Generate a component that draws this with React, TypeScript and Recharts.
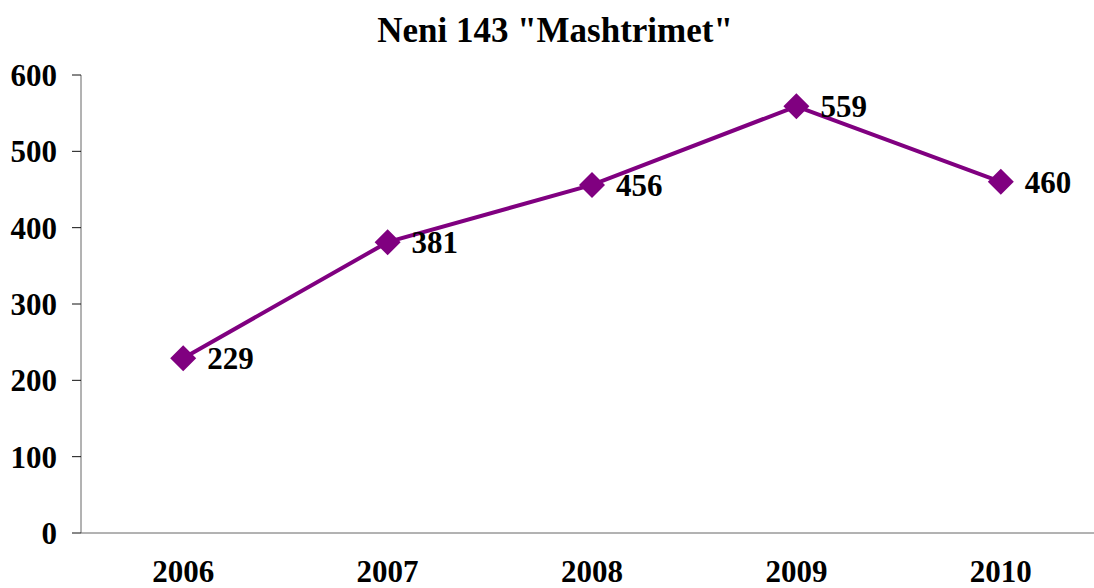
import { LineChart, Line, XAxis, YAxis, LabelList } from 'recharts'

const VITET = ['2006', '2007', '2008', '2009', '2010']
const RASTET = [229, 381, 456, 559, 460]
const TICKS_Y = [0, 100, 200, 300, 400, 500, 600]
const KUFIJTE = [0, 1, 2, 3, 4, 5]
const MESI = [0.5, 1.5, 2.5, 3.5, 4.5]

const FONT = '"Liberation Serif", "Times New Roman", serif'
const VJOLLCE = '#800080'

const dados = VITET.map((v, i) => ({ viti: v, pos: i + 0.5, raste: RASTET[i] }))

function Romb(props: any) {
  const { cx, cy } = props
  if (cx == null || cy == null) return null
  const r = 13
  return (
    <path
      d={`M${cx},${cy - r} L${cx + r},${cy} L${cx},${cy + r} L${cx - r},${cy} Z`}
      fill={VJOLLCE}
    />
  )
}

const tekst = { fontFamily: FONT, fontWeight: 700, fontSize: 31, fill: '#000' }

export default function App() {
  return (
    <div
      style={{
        position: 'absolute',
        left: 0,
        top: 0,
        width: 1094,
        height: 588,
        overflow: 'hidden',
        background: '#fff',
      }}
    >
      <div
        style={{
          position: 'absolute',
          left: 0,
          top: 13,
          width: 1110,
          textAlign: 'center',
          fontFamily: FONT,
          fontWeight: 700,
          fontSize: 35,
          lineHeight: '35px',
          color: '#000',
        }}
      >
        Neni 143 "Mashtrimet"
      </div>
      <LineChart
        width={1110}
        height={588}
        data={dados}
        margin={{ top: 75, right: 7, bottom: 0, left: 0 }}
      >
        <XAxis
          xAxisId="a_boshti"
          type="number"
          dataKey="pos"
          domain={[0, 5]}
          ticks={KUFIJTE}
          height={1}
          tick={false}
          tickSize={9}
          stroke="#666"
          tickLine={{ stroke: '#111' }}
        />
        <XAxis
          xAxisId="b_emra"
          type="number"
          dataKey="pos"
          domain={[0, 5]}
          ticks={MESI}
          height={54}
          axisLine={false}
          tickLine={false}
          tickSize={0}
          tickMargin={26}
          tickFormatter={(p: number) => VITET[Math.floor(p)]}
          tick={tekst}
        />
        <YAxis
          domain={[0, 600]}
          ticks={TICKS_Y}
          width={81}
          tickSize={9}
          tickMargin={15}
          stroke="#666"
          tickLine={{ stroke: '#111' }}
          tick={tekst}
        />
        <Line
          xAxisId="a_boshti"
          dataKey="raste"
          stroke={VJOLLCE}
          strokeWidth={4}
          dot={<Romb />}
          activeDot={false}
          isAnimationActive={false}
        >
          <LabelList dataKey="raste" position="right" offset={24} style={tekst} />
        </Line>
      </LineChart>
    </div>
  )
}
